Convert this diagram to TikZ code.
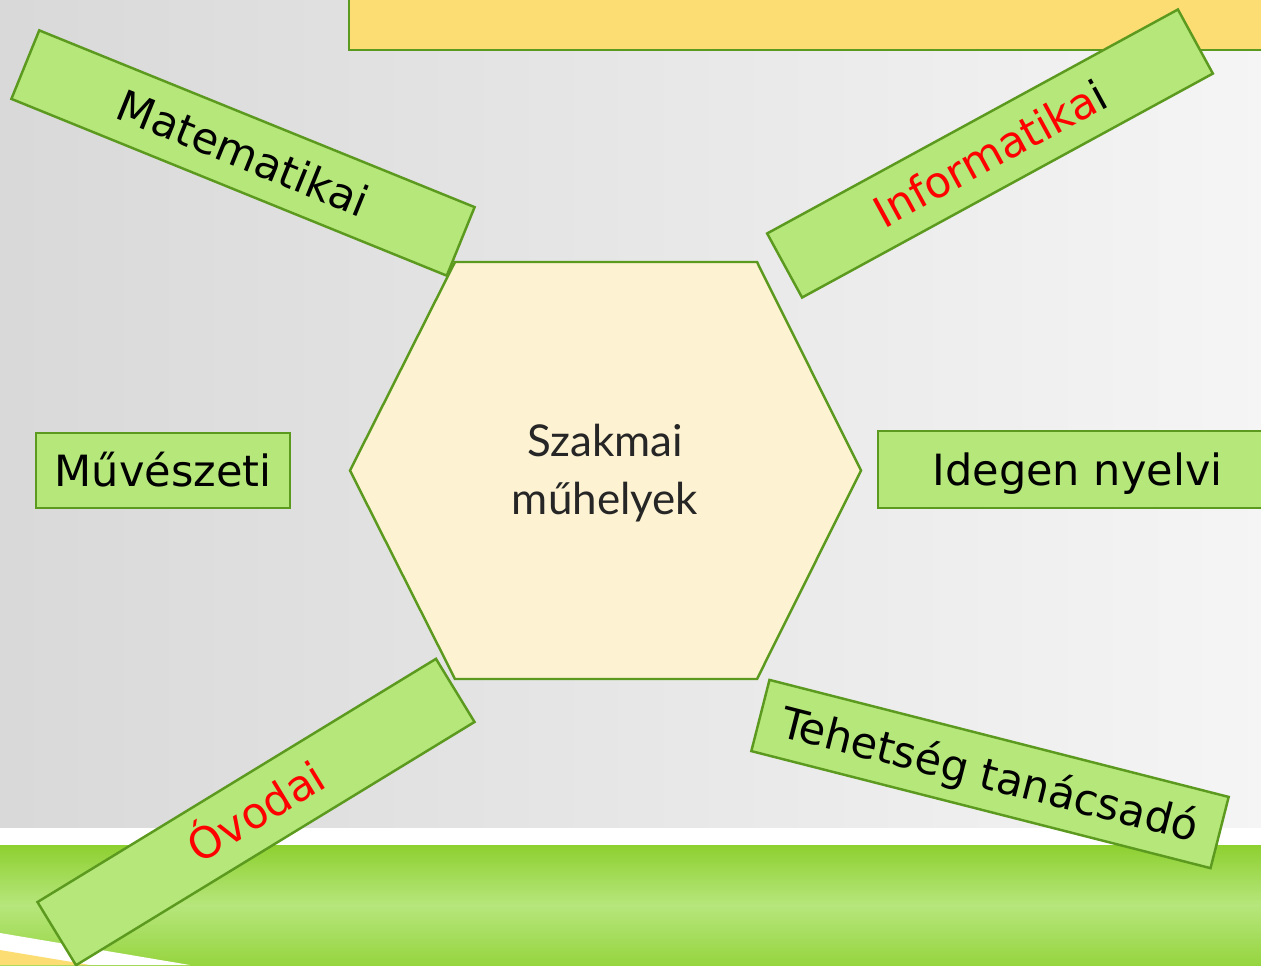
\documentclass[tikz,border=0pt]{standalone}
\usepackage{fontspec}
\setmainfont{DejaVu Sans}
\newfontfamily\hexfont{Lato}
\definecolor{boxgreen}{HTML}{B6E77A}
\definecolor{linegreen}{HTML}{5B9A1E}
\definecolor{hexfill}{HTML}{FDF3D2}
\definecolor{topyellow}{HTML}{FCDD74}
\definecolor{bandgreen}{HTML}{8ED030}
\definecolor{bandlight}{HTML}{B6E67C}
\tikzset{
  labelbox/.style={draw=linegreen, line width=1.4pt, fill=boxgreen, font=\fontsize{24.5}{29}\selectfont, inner sep=0pt, text height=17.9pt, text depth=0pt},
  hexline/.style={draw=linegreen, line width=1.4pt, fill=hexfill}
}
\begin{document}
\begin{tikzpicture}[x=0.02cm, y=-0.02cm]
  \useasboundingbox (0, 0) rectangle (1261, 965);
  \clip (0, 0) rectangle (1261, 965);
  % background
  \shade[left color=black!15, right color=black!4] (0, 0) rectangle (1261, 828);
  \fill[white] (0, 828) rectangle (1261, 845);
  \shade[top color=bandgreen, bottom color=bandgreen!80!bandlight, middle color=bandlight] (0, 845) rectangle (1261, 965);
  \fill[white] (0, 933) -- (190, 965) -- (0, 965) -- cycle;
  \fill[topyellow] (0, 950) -- (90, 965) -- (0, 965) -- cycle;
  \draw[draw=linegreen, line width=1.4pt, fill=topyellow] (349, -10) rectangle (1275, 50);
  % hexagon
  \draw[hexline] (350, 470.5) -- (455, 262) -- (757, 262) -- (861, 470.5) -- (757, 679) -- (455, 679) -- cycle;
  \node[align=center, text=black!85, font=\hexfont\fontsize{25}{33}\selectfont] (hub) at (605, 473) {Szakmai\\műhelyek};
  % boxes
  \node[labelbox, minimum width=9.4cm, minimum height=1.48cm, rotate=-22.1] (matek) at (243, 153) {Matematikai};
  \node[labelbox, minimum width=9.36cm, minimum height=1.46cm, rotate=28.6] (info) at (990, 153.5) {\textcolor{red}{Informatika}i};
  \node[labelbox, minimum width=5.08cm, minimum height=1.5cm] (muv) at (163, 470.5) {Művészeti};
  \node[labelbox, minimum width=7.98cm, minimum height=1.54cm] (nyelv) at (1077.5, 469.5) {Idegen nyelvi};
  \node[labelbox, minimum width=9.34cm, minimum height=1.48cm, rotate=31.4, text=red] (ovoda) at (256, 812) {Óvodai};
  \node[labelbox, minimum width=9.48cm, minimum height=1.47cm, rotate=-14.3] (tehetseg) at (990, 774) {Tehetség tanácsadó};
\end{tikzpicture}
\end{document}
